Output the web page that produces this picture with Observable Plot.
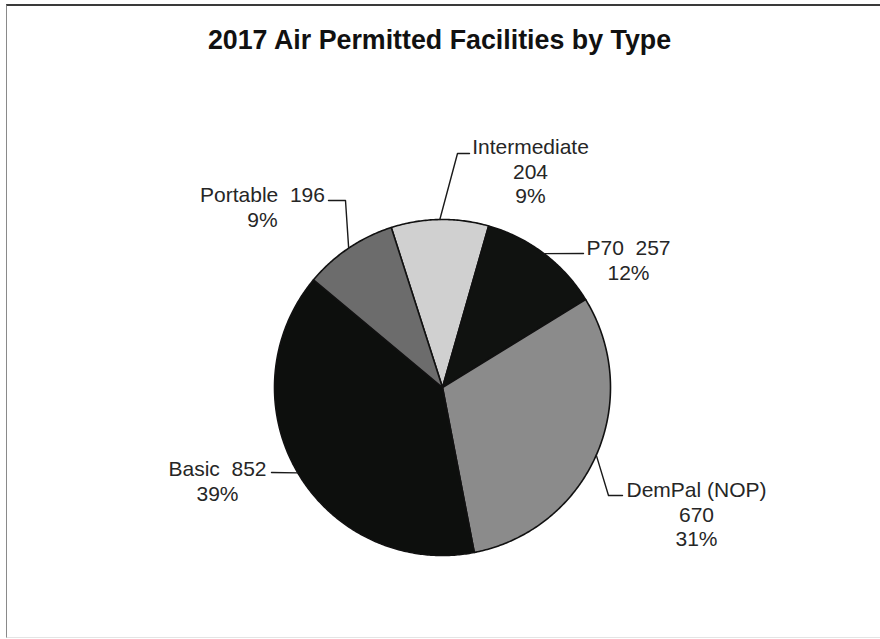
<!DOCTYPE html>
<html><head><meta charset="utf-8">
<script src="https://cdn.jsdelivr.net/npm/d3@7"></script>
<script src="https://cdn.jsdelivr.net/npm/@observablehq/plot@0.6"></script>
<style>
html,body{margin:0;padding:0;background:#fff;}
#frame{position:absolute;left:6px;top:4px;width:880px;height:631px;border-top:2px solid #3a3a3a;border-left:1px solid #8a8a8a;border-bottom:1px solid #e4e4e4;}
#chart{position:absolute;left:0;top:0;}
</style></head><body>
<div id="frame"></div>
<div id="chart"></div>
<script>
// ---- data ----
const title = "2017 Air Permitted Facilities by Type";
const categories = ["Intermediate", "P70", "DemPal (NOP)", "Basic", "Portable"];
const counts = [204, 257, 670, 852, 196];
const sliceColors = ["#d0d0d0", "#101210", "#8b8b8b", "#0d0f0d", "#6c6c6c"];
const labelStacked = [true, false, true, false, false];

// ---- layout ----
const W = 880, H = 639, cx = 442, cy = 387, R = 168;
const startAngle = -0.31;
const labelLayout = [
  {x: 530, y: 147, elbow: [[457, 153], [469, 153]]},
  {x: 628, y: 248, elbow: [[583, 253]]},
  {x: 696, y: 490, elbow: [[608, 495], [622, 495]]},
  {x: 217, y: 469, elbow: [[271, 472]]},
  {x: 262, y: 195, elbow: [[345, 200], [328, 200]]}
];
const lineStep = 24.5;

const total = d3.sum(counts);
const arcs = d3.pie().sort(null).startAngle(startAngle).endAngle(startAngle + 2 * Math.PI)(counts);
const pt = a => ({x: cx + R * Math.sin(a), y: cy - R * Math.cos(a)});

const slicePts = [];
arcs.forEach((a, i) => {
  slicePts.push({name: categories[i], fill: sliceColors[i], x: cx, y: cy});
  const n = Math.max(2, Math.ceil((a.endAngle - a.startAngle) / 0.01));
  for (let k = 0; k <= n; k++) {
    const p = pt(a.startAngle + (a.endAngle - a.startAngle) * k / n);
    slicePts.push({name: categories[i], fill: sliceColors[i], x: p.x, y: p.y});
  }
});

const leaderPts = [];
const labelRows = [];
arcs.forEach((a, i) => {
  const mid = (a.startAngle + a.endAngle) / 2;
  const p = pt(mid);
  leaderPts.push({name: categories[i], x: p.x, y: p.y});
  labelLayout[i].elbow.forEach(([x, y]) => leaderPts.push({name: categories[i], x, y}));
  const pct = Math.round(counts[i] / total * 100) + "%";
  const lines = labelStacked[i] ? [categories[i], String(counts[i]), pct]
                                : [categories[i] + "  " + counts[i], pct];
  lines.forEach((t, j) => labelRows.push({x: labelLayout[i].x, y: labelLayout[i].y + j * lineStep, text: t}));
});

const plot = Plot.plot({
  width: W, height: H, margin: 0,
  x: {domain: [0, W], range: [0, W], axis: null},
  y: {domain: [0, H], range: [0, H], axis: null},
  color: {type: "identity"},
  style: {background: "transparent", fontFamily: "Arial, 'Liberation Sans', sans-serif"},
  marks: [
    Plot.line(slicePts, {x: "x", y: "y", z: "name", fill: "fill", stroke: "#111", strokeWidth: 1.6, curve: "linear-closed", strokeLinejoin: "round"}),
    Plot.line(leaderPts, {x: "x", y: "y", z: "name", stroke: "#1a1a1a", strokeWidth: 1.4}),
    Plot.text(labelRows, {x: "x", y: "y", text: "text", fontSize: 21, fill: "#262626"}),
    Plot.text([title], {x: () => 439, y: () => 40, text: d => d, fontSize: 26.8, fontWeight: "bold", fill: "#111"})
  ]
});
document.getElementById("chart").appendChild(plot);
</script>
</body></html>
